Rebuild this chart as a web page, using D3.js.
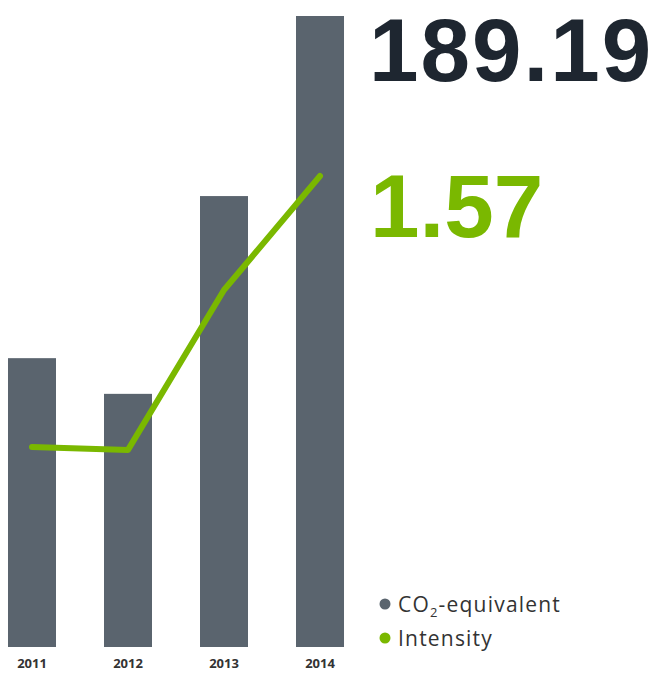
<!DOCTYPE html>
<html>
<head>
<meta charset="utf-8">
<script src="https://cdn.jsdelivr.net/npm/d3@7"></script>
<style>
  html, body { margin: 0; padding: 0; background: #fff; }
  svg { display: block; }
</style>
</head>
<body>
<svg id="chart" width="655" height="675"></svg>
<script>
// Emissions per year (tonnes CO2-equivalent) and emission intensity
const years = ["2011", "2012", "2013", "2014"];
const co2Values = [86.6, 75.9, 135.2, 189.19];
const intensityValues = [0.667, 0.657, 1.19, 1.57];
const legendLabels = ["CO2-equivalent", "Intensity"];

const barColor = "#5a646e";
const lineColor = "#7ab800";
const darkText = "#1e2630";

const svg = d3.select("#chart");

const x = d3.scaleBand()
  .domain(years)
  .range([0, 352])
  .paddingInner(0.5)
  .paddingOuter(0.0833);

const yBar = d3.scaleLinear()
  .domain([0, 189.19])
  .range([647, 16]);

const yLine = d3.scaleLinear()
  .domain([0, 1.57])
  .range([647, 176]);

// Bars
svg.append("g")
  .selectAll("rect")
  .data(years)
  .join("rect")
  .attr("x", d => x(d))
  .attr("y", (d, i) => yBar(co2Values[i]))
  .attr("width", x.bandwidth())
  .attr("height", (d, i) => yBar(0) - yBar(co2Values[i]))
  .attr("fill", barColor);

// Intensity line through the bar centres
const line = d3.line()
  .x((d, i) => x(years[i]) + x.bandwidth() / 2)
  .y(d => yLine(d));

svg.append("path")
  .datum(intensityValues)
  .attr("d", line)
  .attr("fill", "none")
  .attr("stroke", lineColor)
  .attr("stroke-width", 6)
  .attr("stroke-linecap", "round")
  .attr("stroke-linejoin", "round");

// Year axis
const xAxis = svg.append("g")
  .attr("transform", "translate(0,647)")
  .call(d3.axisBottom(x).tickSize(0).tickPadding(12));
xAxis.select(".domain").remove();
xAxis.selectAll("text")
  .attr("font-family", "'Open Sans', sans-serif")
  .attr("font-weight", 700)
  .attr("font-size", 13)
  .attr("fill", "#333");

// Headline values
const headlineFont = "'Liberation Sans', Arial, sans-serif";

svg.append("text")
  .attr("x", 369)
  .attr("y", 81)
  .attr("font-family", headlineFont)
  .attr("font-weight", 700)
  .attr("font-size", 89)
  .attr("letter-spacing", 2)
  .attr("fill", darkText)
  .text(co2Values[3].toFixed(2));

svg.append("text")
  .attr("x", 370)
  .attr("y", 237)
  .attr("font-family", headlineFont)
  .attr("font-weight", 700)
  .attr("font-size", 89)
  .attr("letter-spacing", 0)
  .attr("fill", lineColor)
  .text(intensityValues[3].toFixed(2));

// Legend
const legend = svg.append("g")
  .attr("font-family", "'Open Sans', sans-serif")
  .attr("font-size", 21)
  .attr("letter-spacing", 1.2)
  .attr("fill", "#333");

const legendItems = [
  { color: barColor, y: 604 },
  { color: lineColor, y: 638 }
];

legend.selectAll("circle")
  .data(legendItems)
  .join("circle")
  .attr("cx", 385)
  .attr("cy", d => d.y)
  .attr("r", 5.5)
  .attr("fill", d => d.color);

const t1 = legend.append("text")
  .attr("x", 398)
  .attr("y", 612);
t1.append("tspan").text("CO");
t1.append("tspan").attr("font-size", 13).attr("dy", 5).text("2");
t1.append("tspan").attr("dy", -5).text("-equivalent");

legend.append("text")
  .attr("x", 398)
  .attr("y", 646)
  .text(legendLabels[1]);
</script>
</body>
</html>
